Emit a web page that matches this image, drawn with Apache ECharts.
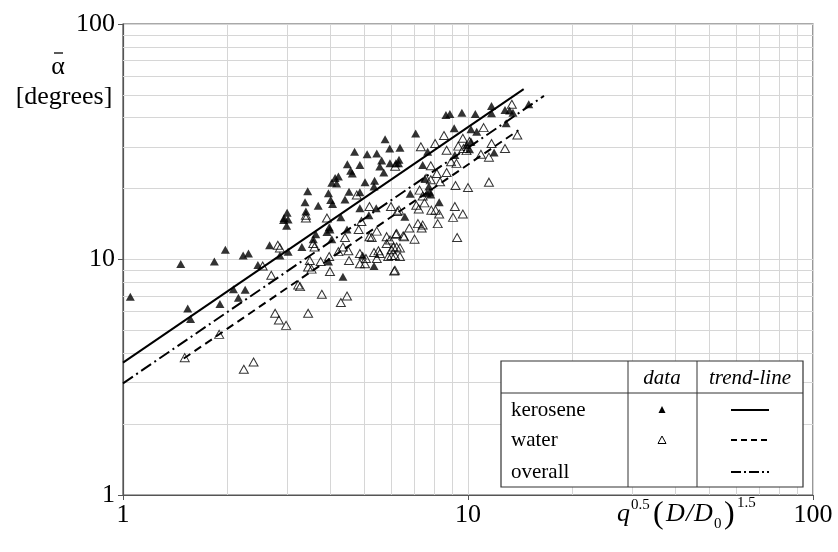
<!DOCTYPE html>
<html lang="en">
  <head>
    <meta charset="UTF-8" />
    <title>alpha vs q</title>
    <script src="https://cdn.jsdelivr.net/npm/echarts@6/dist/echarts.min.js"></script>
    <style>
      * {
        margin: 0;
        padding: 0;
      }
    </style>
  </head>
  <body>
    <div id="charts" style="width: 838px; height: 552px"></div>
    <script>
      // values
      var kerosene = [
        [1.05, 6.95], [1.47, 9.57], [1.54, 6.2], [1.57, 5.59], [1.84, 9.8], [1.98, 11.0],
        [1.91, 6.47], [2.09, 7.47], [2.16, 6.88], [2.26, 7.44], [2.23, 10.4], [2.31, 10.6],
        [2.46, 9.48], [2.66, 11.5], [2.85, 10.4], [3.01, 10.8], [2.92, 14.7], [2.98, 13.9],
        [5.75, 32.4], [5.93, 29.6], [4.69, 28.7], [5.1, 28.0], [5.44, 28.2], [5.62, 26.3],
        [5.94, 25.6], [6.29, 25.6], [4.47, 25.4], [4.86, 25.2], [4.57, 23.8], [4.62, 23.2],
        [5.55, 24.8], [5.7, 23.4], [4.21, 22.5], [4.12, 22.2], [4.03, 21.2], [4.16, 21.0],
        [5.03, 21.3], [5.36, 21.6], [5.34, 20.4], [3.43, 19.5], [3.94, 19.1], [4.52, 19.4],
        [4.86, 19.3], [3.37, 17.5], [3.39, 16.0], [3.68, 16.9], [4.0, 17.9], [4.05, 17.2],
        [4.4, 18.0], [4.86, 16.5], [5.16, 15.4], [5.42, 16.5], [2.99, 15.8], [2.93, 15.0],
        [3.01, 14.8], [4.28, 15.1], [3.96, 13.7], [3.9, 13.1], [3.98, 13.4], [3.62, 12.8],
        [3.56, 12.2], [4.03, 12.2], [4.46, 13.4], [3.3, 11.3], [4.95, 10.4], [3.94, 9.8],
        [5.34, 9.38], [4.34, 8.45], [8.63, 41.1], [8.86, 41.5], [9.6, 42.0], [7.05, 34.3],
        [9.12, 36.1], [6.35, 29.8], [7.64, 28.7], [6.31, 26.5], [6.18, 25.6], [7.39, 25.2],
        [9.16, 27.8], [7.5, 22.1], [6.8, 19.0], [7.7, 20.4], [7.75, 19.4], [7.6, 19.1],
        [7.8, 18.9], [8.25, 17.5], [6.56, 15.2], [11.7, 44.9], [11.7, 41.8], [10.5, 41.5],
        [12.8, 43.1], [13.2, 42.9], [13.5, 42.0], [15.0, 45.6], [12.9, 37.9], [10.2, 35.7],
        [10.6, 34.9], [10.2, 31.7], [9.9, 30.6], [10.1, 29.4], [11.9, 28.5]
      ];
      var water = [
        [2.81, 11.5], [2.54, 9.38], [2.69, 8.57], [2.76, 5.91], [2.83, 5.53], [2.97, 5.25],
        [1.9, 4.81], [1.51, 3.83], [2.24, 3.42], [2.39, 3.67], [3.39, 15.4], [3.39, 15.0],
        [3.9, 15.0], [4.76, 18.8], [5.18, 16.8], [4.91, 14.5], [4.82, 13.4], [5.98, 16.8],
        [6.24, 16.0], [5.18, 12.5], [5.26, 12.4], [5.44, 13.2], [5.81, 12.5], [5.94, 12.1],
        [6.21, 12.9], [4.4, 12.4], [4.34, 11.3], [3.56, 11.7], [3.59, 11.3], [2.85, 11.2],
        [3.48, 9.9], [3.44, 9.3], [3.52, 9.1], [3.74, 9.8], [3.96, 10.3], [3.98, 8.9],
        [4.21, 10.8], [4.5, 10.9], [4.52, 9.9], [4.86, 10.6], [4.86, 9.6], [5.03, 9.6],
        [5.06, 10.1], [5.44, 10.1], [5.34, 10.7], [5.55, 10.6], [5.5, 10.9], [5.81, 11.7],
        [6.0, 11.0], [6.14, 10.4], [5.87, 10.3], [6.21, 11.3], [6.14, 9.0], [3.22, 7.8],
        [3.26, 7.67], [3.77, 7.12], [4.46, 7.0], [4.28, 6.57], [3.44, 5.91], [7.3, 30.1],
        [8.03, 31.1], [8.52, 33.6], [8.67, 29.1], [9.37, 30.3], [9.66, 32.7], [7.8, 25.0],
        [8.12, 23.2], [8.67, 23.4], [8.93, 26.0], [9.26, 25.6], [7.56, 22.1], [7.8, 21.8],
        [8.3, 21.4], [9.2, 20.6], [10.0, 20.2], [7.24, 19.7], [7.39, 18.6], [7.48, 17.4],
        [7.08, 17.0], [7.2, 16.4], [7.83, 16.2], [8.05, 16.2], [8.25, 15.6], [9.16, 16.8],
        [9.05, 15.1], [9.66, 15.6], [8.17, 14.2], [9.3, 12.4], [6.31, 16.2], [6.76, 13.6],
        [7.0, 12.2], [6.53, 12.5], [7.16, 14.2], [7.34, 13.6], [7.39, 14.0], [6.18, 12.8],
        [6.49, 12.6], [6.08, 11.3], [6.35, 11.2], [6.0, 10.4], [6.35, 10.3], [6.11, 8.93],
        [13.4, 45.6], [11.1, 36.3], [10.1, 31.7], [11.7, 31.1], [13.9, 33.8], [12.8, 29.6],
        [10.9, 28.0], [11.5, 27.2], [9.7, 29.6], [9.9, 29.0], [11.5, 21.3], [6.15, 24.9]
      ];
      var keroseneTrend = [[1, 3.65], [14.5, 52.9]];
      var waterTrend = [[1.5, 3.8], [14.0, 35.4]];
      var overallTrend = [[1, 2.98], [16.6, 49.5]];
      var minorGrid = [2, 3, 4, 5, 6, 7, 8, 9, 20, 30, 40, 50, 60, 70, 80, 90];
      var rowNames = ["kerosene", "water", "overall"];

      var serif = '"Liberation Serif", "Times New Roman", serif';
      var myEcharts = echarts.init(document.getElementById("charts"));

      var gridLines = minorGrid
        .map(function (v) { return { xAxis: v }; })
        .concat(minorGrid.map(function (v) { return { yAxis: v }; }));

      // legend table (pixel layout)
      var tx = 501, ty = 361, tw = 302, th = 126;
      var rowY = [410, 440, 472];
      var dashes = [null, [6, 4], [10, 3, 2, 3]];
      var table = [
        { type: "rect", z: 100, shape: { x: tx, y: ty, width: tw, height: th },
          style: { fill: "#fff", stroke: "#333", lineWidth: 1.2 } },
        { type: "line", z: 101, shape: { x1: tx, y1: 393, x2: tx + tw, y2: 393 },
          style: { stroke: "#333", lineWidth: 1 } },
        { type: "line", z: 101, shape: { x1: 628, y1: ty, x2: 628, y2: ty + th },
          style: { stroke: "#333", lineWidth: 1 } },
        { type: "line", z: 101, shape: { x1: 697, y1: ty, x2: 697, y2: ty + th },
          style: { stroke: "#333", lineWidth: 1 } },
        { type: "text", z: 101, x: 662, y: 378,
          style: { text: "data", font: "italic 21px " + serif, fill: "#000", align: "center", verticalAlign: "middle" } },
        { type: "text", z: 101, x: 750, y: 378,
          style: { text: "trend-line", font: "italic 21px " + serif, fill: "#000", align: "center", verticalAlign: "middle" } },
        { type: "polygon", z: 101, shape: { points: [[662, 406], [665.5, 413], [658.5, 413]] },
          style: { fill: "#000" } },
        { type: "polygon", z: 101, shape: { points: [[662, 436], [666, 443.5], [658, 443.5]] },
          style: { fill: "#fff", stroke: "#000", lineWidth: 1 } }
      ];
      rowNames.forEach(function (name, i) {
        table.push({ type: "text", z: 101, x: 511, y: rowY[i],
          style: { text: name, font: "21px " + serif, fill: "#000", align: "left", verticalAlign: "middle" } });
        table.push({ type: "line", z: 101, shape: { x1: 731, y1: rowY[i], x2: 769, y2: rowY[i] },
          style: { stroke: "#000", lineWidth: 2, lineDash: dashes[i] } });
      });

      // axis titles
      var titles = [
        { type: "text", z: 100, x: 58, y: 67,
          style: { text: "α", font: "26px " + serif, fill: "#000", align: "center", verticalAlign: "middle" } },
        { type: "line", z: 100, shape: { x1: 54, y1: 53, x2: 63, y2: 53 },
          style: { stroke: "#000", lineWidth: 1.3 } },
        { type: "text", z: 100, x: 64, y: 97,
          style: { text: "[degrees]", font: "26px " + serif, fill: "#000", align: "center", verticalAlign: "middle" } }
      ];
      // x title pieces: text, left x, middle y, font
      var xt = [
        ["q", 617, 514, "italic 26px"],
        ["0.5", 631, 505, "15px"],
        ["(", 653, 515, "32px"],
        ["D", 666, 514, "italic 26px"],
        ["/", 686, 514, "italic 26px"],
        ["D", 694, 514, "italic 26px"],
        ["0", 714, 524, "15px"],
        [")", 724, 515, "32px"],
        ["1.5", 737, 503, "15px"]
      ];
      xt.forEach(function (p) {
        titles.push({ type: "text", z: 100, x: p[1], y: p[2],
          style: { text: p[0], font: p[3] + " " + serif, fill: "#000", align: "left", verticalAlign: "middle" } });
      });

      var axisCommon = {
        type: "log",
        logBase: 10,
        min: 1,
        max: 100,
        axisLine: { show: true, lineStyle: { color: "#555", width: 1.2 } },
        axisTick: { show: true, inside: false, length: 5, lineStyle: { color: "#555" } },
        splitLine: { show: true, lineStyle: { color: "#d6d6d6", width: 1 } },
        axisLabel: { color: "#000", fontFamily: serif, fontSize: 26 }
      };

      var options = {
        animation: false,
        backgroundColor: "#fff",
        grid: { left: 123, right: 25, top: 24, bottom: 57, show: true, borderColor: "#555", borderWidth: 1.2 },
        xAxis: echarts.util.merge({ axisLabel: { margin: 7 } }, axisCommon),
        yAxis: echarts.util.merge({ axisLabel: { margin: 8 } }, axisCommon),
        graphic: table.concat(titles),
        series: [
          {
            type: "line",
            data: [],
            markLine: {
              silent: true,
              z: 1,
              symbol: "none",
              animation: false,
              label: { show: false },
              lineStyle: { color: "#d6d6d6", width: 1, type: "solid" },
              data: gridLines
            }
          },
          {
            name: "kerosene",
            type: "scatter",
            z: 3,
            symbol: "triangle",
            symbolSize: [9, 8],
            itemStyle: { color: "#000" },
            data: kerosene
          },
          {
            name: "water",
            type: "scatter",
            z: 3,
            symbol: "triangle",
            symbolSize: [9, 8],
            itemStyle: { color: "rgba(255,255,255,0)", borderColor: "#000", borderWidth: 1 },
            data: water
          },
          {
            type: "line", z: 4, showSymbol: false, data: keroseneTrend,
            lineStyle: { color: "#000", width: 2, type: "solid" }
          },
          {
            type: "line", z: 4, showSymbol: false, data: waterTrend,
            lineStyle: { color: "#000", width: 2, type: [8, 5] }
          },
          {
            type: "line", z: 4, showSymbol: false, data: overallTrend,
            lineStyle: { color: "#000", width: 2, type: [12, 4, 2, 4] }
          }
        ]
      };
      myEcharts.setOption(options);
    </script>
  </body>
</html>
